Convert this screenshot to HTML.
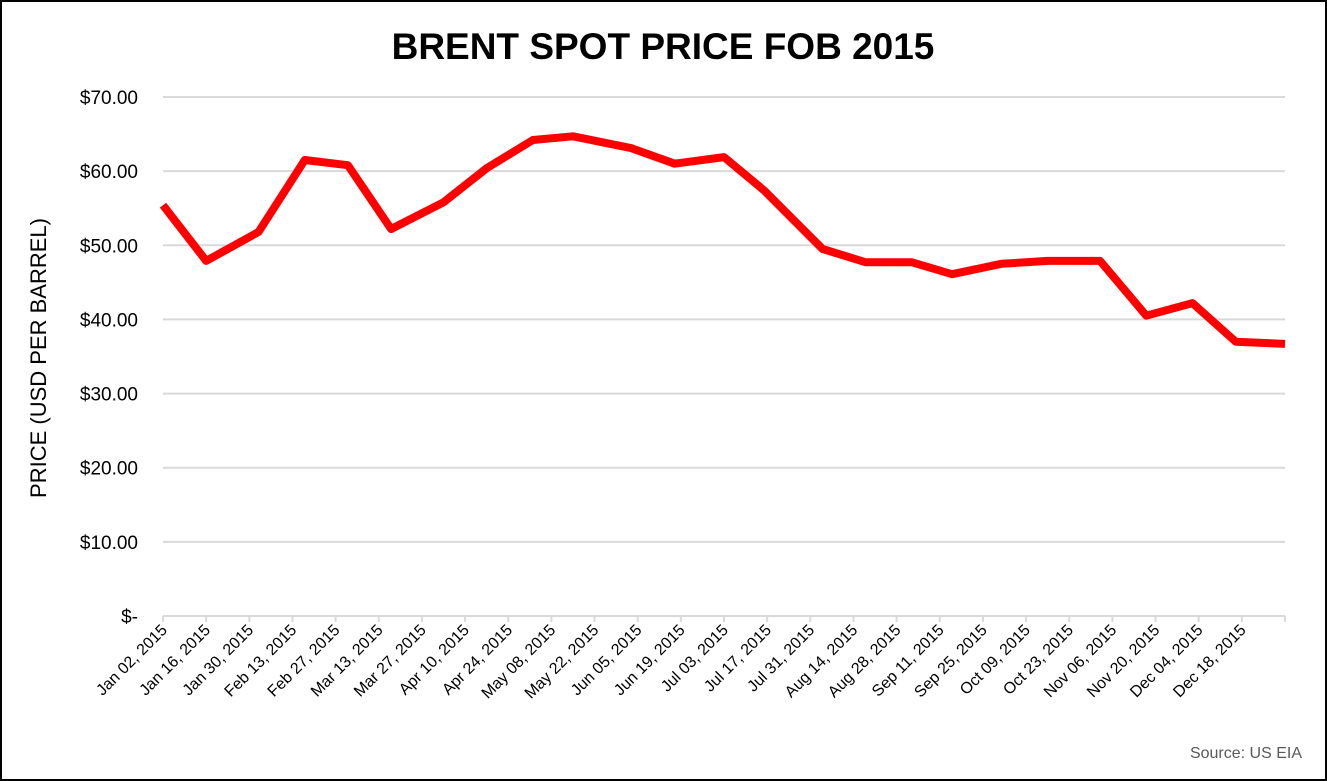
<!DOCTYPE html>
<html><head><meta charset="utf-8"><style>
html,body{margin:0;padding:0;background:#fff;}
svg{display:block;font-family:"Liberation Sans",sans-serif;}
</style></head><body>
<svg width="1327" height="781" viewBox="0 0 1327 781">
<rect x="1" y="1" width="1325" height="779" fill="#fff" stroke="#000" stroke-width="2"/>
<text x="663" y="59" text-anchor="middle" font-size="37" font-weight="bold" fill="#000">BRENT SPOT PRICE FOB 2015</text>
<text transform="translate(46,358) rotate(-90)" text-anchor="middle" font-size="22" fill="#000">PRICE (USD PER BARREL)</text>
<text x="1302" y="758" text-anchor="end" font-size="16" fill="#595959">Source: US EIA</text>
<g id="grid"></g><g id="xaxis"></g><g id="yaxis"></g><g id="series"></g>
</svg>
<script>
const yTicks = [0,10,20,30,40,50,60,70];
const yTickLabels = ["$-","$10.00","$20.00","$30.00","$40.00","$50.00","$60.00","$70.00"];
const xTickLabels = ["Jan 02, 2015","Jan 16, 2015","Jan 30, 2015","Feb 13, 2015","Feb 27, 2015","Mar 13, 2015","Mar 27, 2015","Apr 10, 2015","Apr 24, 2015","May 08, 2015","May 22, 2015","Jun 05, 2015","Jun 19, 2015","Jul 03, 2015","Jul 17, 2015","Jul 31, 2015","Aug 14, 2015","Aug 28, 2015","Sep 11, 2015","Sep 25, 2015","Oct 09, 2015","Oct 23, 2015","Nov 06, 2015","Nov 20, 2015","Dec 04, 2015","Dec 18, 2015"];
const dayOffsets = [0,14,31,46,60,74,91,105,120,133,152,166,182,195,214,228,243,256,272,287,304,319,334,348,364];
const prices = [55.4,47.9,51.8,61.5,60.8,52.2,55.8,60.4,64.2,64.7,63.1,61.0,61.9,57.4,49.5,47.7,47.7,46.1,47.5,47.9,47.9,40.5,42.2,37.0,36.7];

const NS="http://www.w3.org/2000/svg";
const X0=163,X1=1285,Y0=616,Y1=97,DMAX=364,VMAX=70;
const xs=d=>X0+(X1-X0)*d/DMAX;
const ys=v=>Y0-(Y0-Y1)*v/VMAX;
function mk(tag,attrs,parent){const e=document.createElementNS(NS,tag);for(const k in attrs)e.setAttribute(k,attrs[k]);parent.appendChild(e);return e;}
const grid=document.getElementById('grid'),xa=document.getElementById('xaxis'),ya=document.getElementById('yaxis'),ser=document.getElementById('series');
yTicks.forEach((v,i)=>{
  const l=mk('line',{x1:X0,x2:X1,y1:ys(v),y2:ys(v),stroke:'#d9d9d9','stroke-width':2},grid);
  
  
  const t=mk('text',{x:138,y:ys(v)+7,'text-anchor':'end','font-size':19,fill:'#000'},ya);
  t.textContent=yTickLabels[i];
  
  
});
for(let i=0;i<=xTickLabels.length;i++){
  const x=xs(i*14);
  const tk=mk('line',{x1:x,x2:x,y1:Y0,y2:Y0+6,stroke:'#d9d9d9','stroke-width':2},xa);
  
  
  if(i<xTickLabels.length){
    const t=mk('text',{transform:`translate(${x+5},${Y0+15}) rotate(-45)`,'text-anchor':'end','font-size':16,fill:'#000'},xa);
    t.textContent=xTickLabels[i];
    
    
  }
}
const pts=dayOffsets.map((d,i)=>xs(d).toFixed(1)+','+ys(prices[i]).toFixed(1)).join(' ');
const pl=mk('polyline',{points:pts,fill:'none',stroke:'#ff0000','stroke-width':8,'stroke-linejoin':'round','stroke-linecap':'butt'},ser);


</script>
</body></html>
